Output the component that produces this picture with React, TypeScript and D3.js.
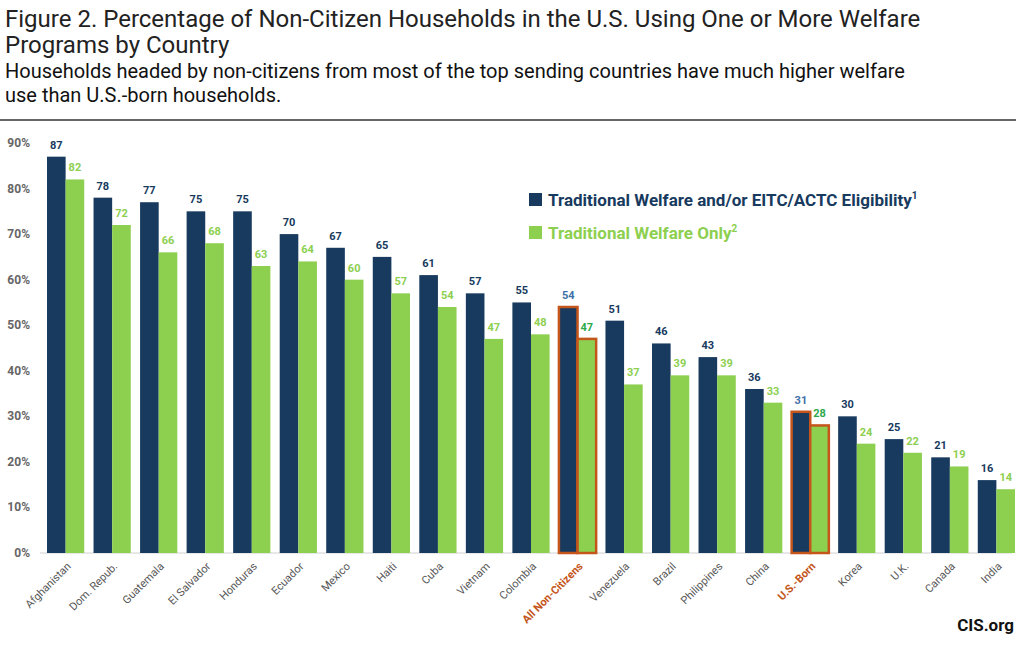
import React from 'react';
import * as d3 from 'd3';

// categories and values
const countries = ['Afghanistan', 'Dom. Repub.', 'Guatemala', 'El Salvador', 'Honduras', 'Ecuador', 'Mexico', 'Haiti', 'Cuba', 'Vietnam', 'Colombia', 'All Non-Citizens', 'Venezuela', 'Brazil', 'Philippines', 'China', 'U.S.-Born', 'Korea', 'U.K.', 'Canada', 'India'];
const welfareEitc = [87, 78, 77, 75, 75, 70, 67, 65, 61, 57, 55, 54, 51, 46, 43, 36, 31, 30, 25, 21, 16];
const welfareOnly = [82, 72, 66, 68, 63, 64, 60, 57, 54, 47, 48, 47, 37, 39, 39, 33, 28, 24, 22, 19, 14];
const highlighted = ['All Non-Citizens', 'U.S.-Born'];
const yTicks = [0, 10, 20, 30, 40, 50, 60, 70, 80, 90];

const NAVY = '#173a5e';
const GREEN = '#8dcf4f';
const ORANGE = '#c4561b';
const FONT = 'Roboto, "Noto Sans", sans-serif';

export default function App() {
  const width = 1024;
  const height = 646;
  const x0 = d3.scaleBand<string>().domain(countries).range([47, 1015]).paddingInner(0.2).paddingOuter(0);
  const x1 = d3.scaleBand<string>().domain(['a', 'b']).range([0, x0.bandwidth()]);
  const y = d3.scaleLinear().domain([0, 90]).range([553, 143]);

  return (
    <svg width={width} height={height} style={{ position: 'absolute', left: 0, top: 0, background: '#fff' }}>
      <text x={5} y={27} fontFamily={FONT} fontSize={24} fill="#222">Figure 2. Percentage of Non-Citizen Households in the U.S. Using One or More Welfare</text>
      <text x={5} y={53} fontFamily={FONT} fontSize={24} fill="#222">Programs by Country</text>
      <text x={5} y={78} fontFamily={FONT} fontSize={20} fill="#111">Households headed by non-citizens from most of the top sending countries have much higher welfare</text>
      <text x={5} y={102} fontFamily={FONT} fontSize={20} fill="#111">use than U.S.-born households.</text>
      <line x1={0} x2={1016} y1={120} y2={120} stroke="#333" strokeWidth={1.5} />

      {yTicks.map(t => (
        <text key={t} x={30} y={y(t) + 4} textAnchor="end" fontFamily={FONT} fontWeight={700} fontSize={12} fill="#666">{t}%</text>
      ))}
      <line x1={40} x2={1012} y1={y(0)} y2={y(0)} stroke="#d0d0d0" />

      {countries.map((c, i) => {
        const hl = highlighted.includes(c);
        const gx = x0(c)!;
        const bw = x1.bandwidth();
        const ya = y(welfareEitc[i]);
        const yb = y(welfareOnly[i]);
        const lx = gx + x0.bandwidth() / 2;
        return (
          <g key={c}>
            <rect x={gx + x1('a')!} y={ya} width={bw} height={y(0) - ya} fill={NAVY}
              stroke={hl ? ORANGE : 'none'} strokeWidth={hl ? 2.5 : 0} />
            <rect x={gx + x1('b')!} y={yb} width={bw} height={y(0) - yb} fill={GREEN}
              stroke={hl ? ORANGE : 'none'} strokeWidth={hl ? 2.5 : 0} />
            <text x={gx + x1('a')! + bw / 2} y={ya - 8} textAnchor="middle" fontFamily={FONT} fontWeight={700} fontSize={11}
              fill={hl ? '#3f6fa8' : NAVY}>{welfareEitc[i]}</text>
            <text x={gx + x1('b')! + bw / 2} y={yb - 8} textAnchor="middle" fontFamily={FONT} fontWeight={700} fontSize={11}
              fill={hl ? '#2ca84a' : GREEN}>{welfareOnly[i]}</text>
            <text transform={`translate(${lx + 6},${y(0) + 14}) rotate(-45)`} textAnchor="end" fontFamily={FONT}
              fontWeight={hl ? 700 : 400} fontSize={11} fill={hl ? ORANGE : '#555'}>{c}</text>
          </g>
        );
      })}

      <rect x={529} y={193} width={13} height={13} fill={NAVY} />
      <text x={548} y={206} fontFamily={FONT} fontWeight={700} fontSize={17} fill={NAVY}>
        Traditional Welfare and/or EITC/ACTC Eligibility<tspan dy={-7} fontSize={10}>1</tspan>
      </text>
      <rect x={529} y={226} width={13} height={13} fill={GREEN} />
      <text x={548} y={239} fontFamily={FONT} fontWeight={700} fontSize={17} fill={GREEN}>
        Traditional Welfare Only<tspan dy={-7} fontSize={10}>2</tspan>
      </text>

      <text x={1014} y={631} textAnchor="end" fontFamily={FONT} fontWeight={700} fontSize={17} fill="#111">CIS.org</text>
    </svg>
  );
}
